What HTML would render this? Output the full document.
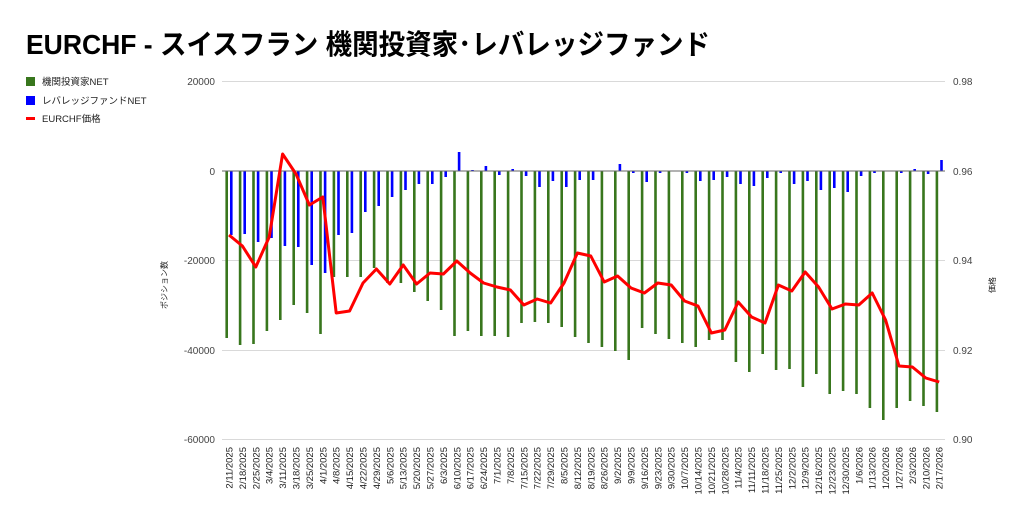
<!DOCTYPE html>
<html><head><meta charset="utf-8"><style>
html,body{margin:0;padding:0;background:#fff;}
svg{display:block;font-family:"Liberation Sans","Noto Sans CJK JP",sans-serif;}
</style></head><body>
<svg id="c" width="1024" height="520" xmlns="http://www.w3.org/2000/svg">
<rect width="1024" height="520" fill="#fff"/>
<text x="26" y="54" font-size="28" font-weight="bold" fill="#000" textLength="684" lengthAdjust="spacingAndGlyphs">EURCHF - スイスフラン 機関投資家･レバレッジファンド</text>
<rect x="26" y="77" width="9" height="9" fill="#38761d"/>
<text x="42" y="85" font-size="9.5" fill="#222">機関投資家NET</text>
<rect x="26" y="96" width="9" height="9" fill="#0000ff"/>
<text x="42" y="104" font-size="9.5" fill="#222">レバレッジファンドNET</text>
<rect x="26" y="117" width="9" height="3" fill="#ff0000"/>
<text x="42" y="122" font-size="9.5" fill="#222">EURCHF価格</text>
<g stroke="#d9d9d9" stroke-width="1">
<line x1="222" y1="81.5" x2="945" y2="81.5"/>
<line x1="222" y1="260.5" x2="945" y2="260.5"/>
<line x1="222" y1="350.5" x2="945" y2="350.5"/>
<line x1="222" y1="439.5" x2="945" y2="439.5"/>
</g>
<g font-size="10" fill="#444" text-anchor="end">
<text x="215" y="85">20000</text>
<text x="215" y="175">0</text>
<text x="215" y="264">-20000</text>
<text x="215" y="354">-40000</text>
<text x="215" y="443">-60000</text>
</g>
<g font-size="10" fill="#444">
<text x="953" y="85">0.98</text>
<text x="953" y="175">0.96</text>
<text x="953" y="264">0.94</text>
<text x="953" y="354">0.92</text>
<text x="953" y="443">0.90</text>
</g>
<text transform="translate(167,285) rotate(-90)" font-size="8" fill="#222" text-anchor="middle">ポジション数</text>
<text transform="translate(995,285) rotate(-90)" font-size="8" fill="#222" text-anchor="middle">価格</text>
<g id="bars"></g>
<line x1="222" y1="171" x2="945" y2="171" stroke="#666" stroke-width="1"/>
<g id="line"></g>
<g id="labels" font-size="9.5" fill="#222"></g>
</svg>
<script>
var G=[338,345,344,331,320,305,313,334,277,277,277,268,283,283,292,301,310,336,331,336,336,337,323,322,323,327,337,343,347,351,360,328,334,339,343,347,340,340,362,372,354,370,369,387,374,394,391,394,408,420,408,401,406,412];
var B=[235,234,242,238,246,247,265,273,235,233,212,206,197,190,184,184,177,152,170,166,175,169,176,187,181,187,180,180,171,164,173,182,173,171,173,181,180,177,184,186,178,173,184,181,190,188,192,176,173,171,173,169,174,160];
var R=[235,246,267,237,154,174,205,197,313,311,283,269,284,265,284,273,274,261,273,283,287,290,305,299,303,283,253,256,282,276,288,293,283,285,301,306,333,330,302,317,323,285,291,272,287,309,304,305,293,320,366,367,378,382];
var ns="http://www.w3.org/2000/svg",bars=document.getElementById("bars"),lab=document.getElementById("labels");
function el(t,a,p){var e=document.createElementNS(ns,t);for(var k in a)e.setAttribute(k,a[k]);p.appendChild(e);return e;}
var d=new Date(2025,1,11),pts=[];
for(var i=0;i<54;i++){
 var c=229+13.4*i;
 var g=G[i];el("rect",{x:c-3.6,y:171,width:2.6,height:g-171,fill:"#38761d"},bars);
 var b=B[i];if(b!=171){var y=Math.min(b,171),h=Math.abs(b-171);el("rect",{x:c+1,y:y,width:2.6,height:h,fill:"#0000ff"},bars);}
 pts.push(c.toFixed(1)+","+R[i]);
 var s=(d.getMonth()+1)+"/"+d.getDate()+"/"+d.getFullYear();
 var t=el("text",{transform:"translate("+(c+3.5)+",447) rotate(-90)","text-anchor":"end"},lab);t.textContent=s;
 d.setDate(d.getDate()+7);
}
el("polyline",{points:pts.join(" "),fill:"none",stroke:"#ff0000","stroke-width":3,"stroke-linejoin":"round"},document.getElementById("line"));
</script>
</body></html>
